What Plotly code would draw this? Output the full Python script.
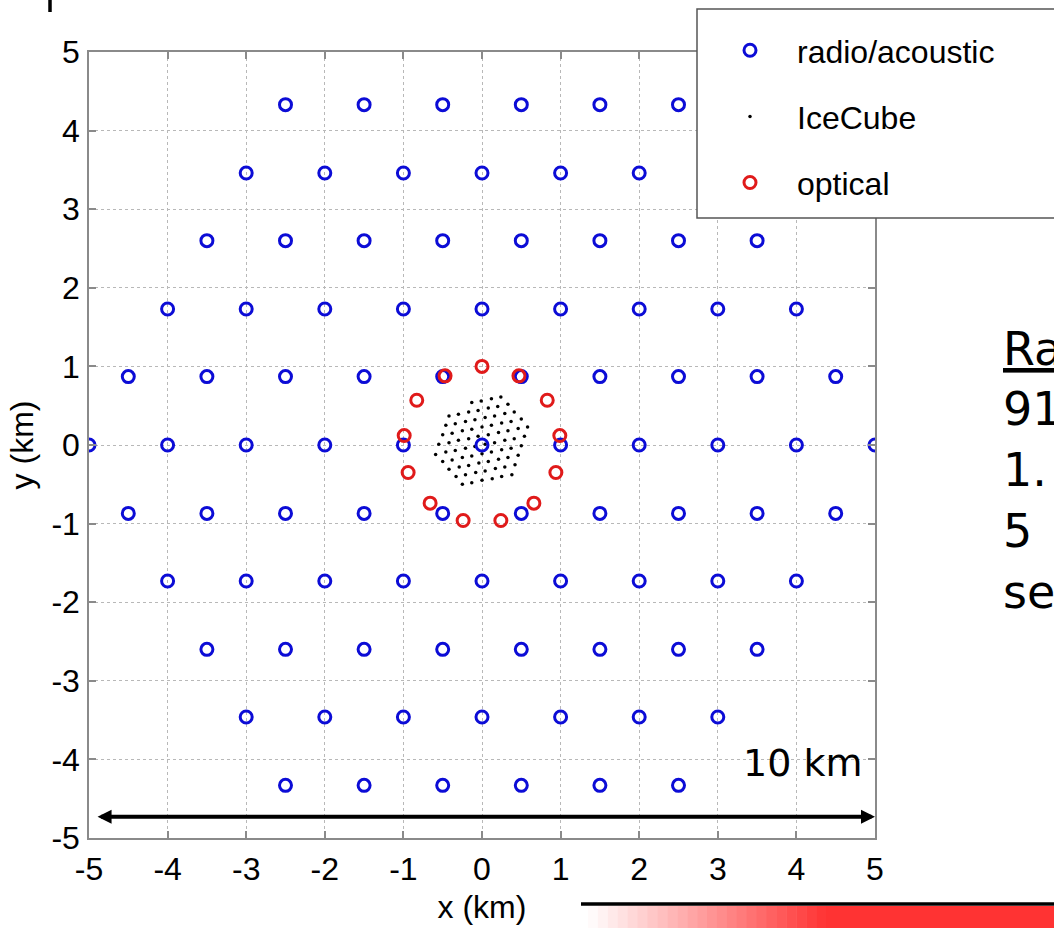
import plotly.graph_objects as go

# ---------------- data ----------------
radio_row_y = [4.33, 3.46, 2.60, 1.73, 0.87, 0.00, -0.87, -1.73, -2.60, -3.46, -4.33]
radio_row_x = [
    [-2.5, -1.5, -0.5, 0.5, 1.5, 2.5],
    [-3, -2, -1, 0, 1, 2, 3],
    [-3.5, -2.5, -1.5, -0.5, 0.5, 1.5, 2.5, 3.5],
    [-4, -3, -2, -1, 0, 1, 2, 3, 4],
    [-4.5, -3.5, -2.5, -1.5, -0.5, 0.5, 1.5, 2.5, 3.5, 4.5],
    [-5, -4, -3, -2, -1, 0, 1, 2, 3, 4, 5],
    [-4.5, -3.5, -2.5, -1.5, -0.5, 0.5, 1.5, 2.5, 3.5, 4.5],
    [-4, -3, -2, -1, 0, 1, 2, 3, 4],
    [-3.5, -2.5, -1.5, -0.5, 0.5, 1.5, 2.5, 3.5],
    [-3, -2, -1, 0, 1, 2, 3],
    [-2.5, -1.5, -0.5, 0.5, 1.5, 2.5],
]

icecube_x = [
    -0.25, -0.13, 0.00, 0.13, 0.25, 0.38,
    -0.33, -0.21, -0.08, 0.04, 0.17, 0.29, 0.42,
    -0.42, -0.29, -0.17, -0.04, 0.08, 0.21, 0.33, 0.46,
    -0.50, -0.38, -0.25, -0.13, 0.00, 0.12, 0.25, 0.37, 0.50,
    -0.59, -0.46, -0.34, -0.21, -0.09, 0.04, 0.16, 0.29, 0.41, 0.54,
    -0.55, -0.42, -0.30, -0.17, -0.05, 0.08, 0.21, 0.33, 0.46, 0.58,
    -0.50, -0.38, -0.25, -0.13, 0.00, 0.12, 0.25, 0.37, 0.50,
    -0.46, -0.34, -0.21, -0.09, 0.04, 0.16, 0.29, 0.41,
    -0.42, -0.30, -0.17, -0.05, 0.08, 0.20, 0.33,
    -0.13, -0.01, 0.12, 0.24,
]
icecube_y = [
    -0.50, -0.48, -0.45, -0.43, -0.40, -0.38,
    -0.40, -0.38, -0.35, -0.33, -0.30, -0.28, -0.25,
    -0.31, -0.28, -0.26, -0.23, -0.21, -0.18, -0.16, -0.13,
    -0.21, -0.19, -0.16, -0.14, -0.11, -0.09, -0.06, -0.04, -0.01,
    -0.12, -0.09, -0.07, -0.04, -0.02, 0.01, 0.03, 0.06, 0.08, 0.11,
    0.01, 0.03, 0.06, 0.08, 0.11, 0.13, 0.16, 0.18, 0.21, 0.23,
    0.13, 0.15, 0.18, 0.20, 0.23, 0.25, 0.28, 0.30, 0.33,
    0.25, 0.27, 0.30, 0.32, 0.35, 0.37, 0.40, 0.42,
    0.37, 0.39, 0.42, 0.44, 0.47, 0.49, 0.52,
    0.54, 0.56, 0.59, 0.61,
]

optical_x = [0.00, 0.47, 0.83, 0.99, 0.94, 0.66, 0.24, -0.24, -0.66, -0.94, -0.99, -0.83, -0.47]
optical_y = [1.00, 0.88, 0.57, 0.12, -0.35, -0.74, -0.96, -0.96, -0.74, -0.35, 0.12, 0.57, 0.88]

tick_vals = [-5, -4, -3, -2, -1, 0, 1, 2, 3, 4, 5]
tick_text = ["-5", "-4", "-3", "-2", "-1", "0", "1", "2", "3", "4", "5"]

side_lines = ["<u>Ra</u>", "91", "1.", "5", "se"]

# ---------------- layout geometry ----------------
W, H = 1054, 928
ML, MR, MT, MB = 89, 179, 52, 90
PW = W - ML - MR
PH = H - MT - MB


def px_x(p):
    return (p - ML) / PW


def px_y(p):
    return (H - MB - p) / PH


radio_x = [x for row in radio_row_x for x in row]
radio_y = [y for y, row in zip(radio_row_y, radio_row_x) for _ in row]

BLUE = "#0c0cd6"
RED = "#e01a1a"
FONT = "Liberation Sans"

fig = go.Figure()
fig.add_trace(go.Scatter(
    x=icecube_x, y=icecube_y, mode="markers", name="IceCube",
    marker=dict(symbol="circle", size=3.5, color="black"),
    legendrank=2, legendgroup="b"))
fig.add_trace(go.Scatter(
    x=radio_x, y=radio_y, mode="markers", name="radio/acoustic",
    marker=dict(symbol="circle-open", size=12, color=BLUE, line=dict(width=3, color=BLUE)),
    legendrank=1, legendgroup="a"))
fig.add_trace(go.Scatter(
    x=optical_x, y=optical_y, mode="markers", name="optical",
    marker=dict(symbol="circle-open", size=12, color=RED, line=dict(width=3, color=RED)),
    legendrank=3, legendgroup="c"))

axis_common = dict(
    range=[-5, 5], tickmode="array", tickvals=tick_vals, ticktext=tick_text,
    showgrid=True, gridcolor="#b8b8b8", griddash="dot", gridwidth=1,
    zeroline=False, showline=True, linecolor="#8a8a8a", linewidth=1.5,
    mirror="ticks", ticks="inside", ticklen=7, tickcolor="#8a8a8a", tickwidth=1.5,
    tickfont=dict(family=FONT, size=32, color="black"),
    title_font=dict(family=FONT, size=32, color="black"),
    automargin=False,
)

fig.update_layout(
    width=W, height=H,
    margin=dict(l=ML, r=MR, t=MT, b=MB, pad=0, autoexpand=False),
    paper_bgcolor="white", plot_bgcolor="white",
    xaxis=dict(axis_common, title_text="x (km)", title_standoff=9, ticklabelstandoff=2),
    yaxis=dict(axis_common, title_text="y (km)", title_standoff=8, ticklabelstandoff=1),
    showlegend=True,
    legend=dict(
        x=px_x(703), y=px_y(23), xanchor="left", yanchor="top",
        bgcolor="rgba(0,0,0,0)", borderwidth=0,
        font=dict(family=FONT, size=32, color="black"),
        tracegroupgap=21.5, itemwidth=84,
    ),
)

shapes = []
# legend box
shapes.append(dict(type="rect", xref="paper", yref="paper",
                   x0=px_x(697), x1=px_x(1080), y0=px_y(218), y1=px_y(9),
                   line=dict(color="#555555", width=1.5), fillcolor="white", layer="above"))
# cut-off descender at the top
shapes.append(dict(type="line", xref="paper", yref="paper",
                   x0=px_x(50), x1=px_x(50), y0=px_y(0), y1=px_y(12),
                   line=dict(color="black", width=3.5)))
# bottom black rule
shapes.append(dict(type="line", xref="paper", yref="paper",
                   x0=px_x(581), x1=px_x(1060), y0=px_y(904), y1=px_y(904),
                   line=dict(color="black", width=3.5)))
# red gradient band
g0, g1, nb = 588, 826, 24
for i in range(nb):
    t = (i + 0.5) / nb
    r, g, b = 255, int(255 - t * (255 - 51)), int(255 - t * (255 - 51))
    shapes.append(dict(type="rect", xref="paper", yref="paper",
                       x0=px_x(g0 + (g1 - g0) * i / nb), x1=px_x(g0 + (g1 - g0) * (i + 1) / nb + 0.5),
                       y0=px_y(928), y1=px_y(906),
                       line=dict(width=0), fillcolor=f"rgb({r},{g},{b})"))
shapes.append(dict(type="rect", xref="paper", yref="paper",
                   x0=px_x(g1), x1=px_x(1060), y0=px_y(928), y1=px_y(906),
                   line=dict(width=0), fillcolor="rgb(255,51,51)"))
fig.update_layout(shapes=shapes)

annotations = []
# double arrow 10 km
annotations.append(dict(x=5.0, y=-4.73, ax=-4.91, ay=-4.73, xref="x", yref="y", axref="x", ayref="y",
                        text="", showarrow=True, arrowhead=2, startarrowhead=2, arrowside="end+start",
                        arrowwidth=4, arrowsize=0.7, startarrowsize=0.7, arrowcolor="black"))
annotations.append(dict(x=px_x(741), y=px_y(763), xref="paper", yref="paper", xanchor="left", yanchor="middle",
                        text="10 km", showarrow=False,
                        font=dict(family="DejaVu Sans", size=38, color="black")))
side_y = [349, 409, 470, 531, 592]
for txt, yy in zip(side_lines, side_y):
    annotations.append(dict(x=px_x(1001), y=px_y(yy), xref="paper", yref="paper", xanchor="left",
                            yanchor="middle", text=txt, showarrow=False,
                            font=dict(family="DejaVu Sans", size=46, color="black")))
fig.update_layout(annotations=annotations)

fig.write_html("out.html")
